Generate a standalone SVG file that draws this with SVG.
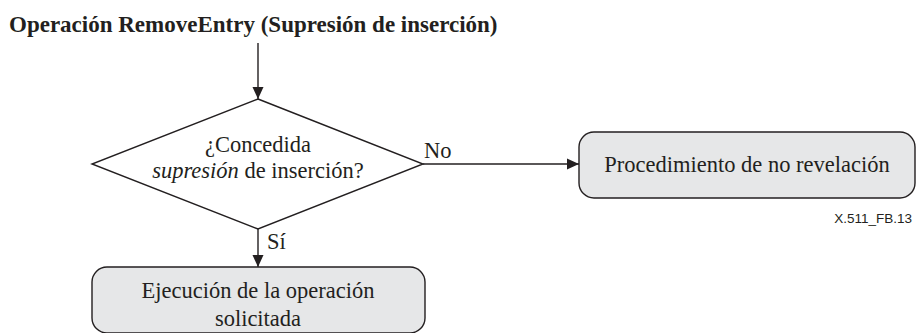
<svg xmlns="http://www.w3.org/2000/svg" width="918" height="333" viewBox="0 0 918 333">
<defs>
<style>
.t{font-family:"Liberation Serif","Times New Roman",serif;font-size:22.5px;fill:#231f20}
.b{font-weight:bold;font-size:23px}
.box{fill:#e6e7e8;stroke:#231f20;stroke-width:1.4}
.dia{fill:#ffffff;stroke:#231f20;stroke-width:1.4}
.ln{stroke:#231f20;stroke-width:1.4;fill:none}
.id{font-family:"Liberation Sans",Arial,sans-serif;font-size:13.5px;fill:#231f20}
</style>
<marker id="ah" markerWidth="12" markerHeight="12" viewBox="0 0 12 12" refX="12" refY="6" orient="auto" markerUnits="userSpaceOnUse">
<path d="M0,0.5 L12,6 L0,11.5 Z" fill="#231f20"/>
</marker>
</defs>
<rect width="918" height="333" fill="#ffffff"/>
<text class="t b" x="9" y="32">Operación RemoveEntry (Supresión de inserción)</text>
<g id="connectors">
<line class="ln" x1="258" y1="43" x2="258" y2="99" marker-end="url(#ah)"/>
<line class="ln" x1="423" y1="164" x2="579" y2="164" marker-end="url(#ah)"/>
<line class="ln" x1="258" y1="229" x2="258" y2="267" marker-end="url(#ah)"/>
<text class="t" x="424" y="158">No</text>
<text class="t" x="267" y="249">Sí</text>
</g>
<g id="decision">
<polygon class="dia" points="258,99 423,164 258,229 92,164"/>
<text class="t" x="258" y="152" text-anchor="middle">¿Concedida</text>
<text class="t" x="258" y="178" text-anchor="middle"><tspan font-style="italic">supresión</tspan> de inserción?</text>
</g>
<g id="nodisclosure">
<rect class="box" x="579" y="132" width="336" height="66" rx="15" ry="15"/>
<text class="t" x="747" y="172" text-anchor="middle">Procedimiento de no revelación</text>
</g>
<g id="execute">
<rect class="box" x="92" y="267" width="333" height="66" rx="15" ry="15"/>
<text class="t" x="258" y="298" text-anchor="middle">Ejecución de la operación</text>
<text class="t" x="258" y="326" text-anchor="middle">solicitada</text>
</g>
<text class="id" x="912" y="223" text-anchor="end">X.511_FB.13</text>
</svg>
